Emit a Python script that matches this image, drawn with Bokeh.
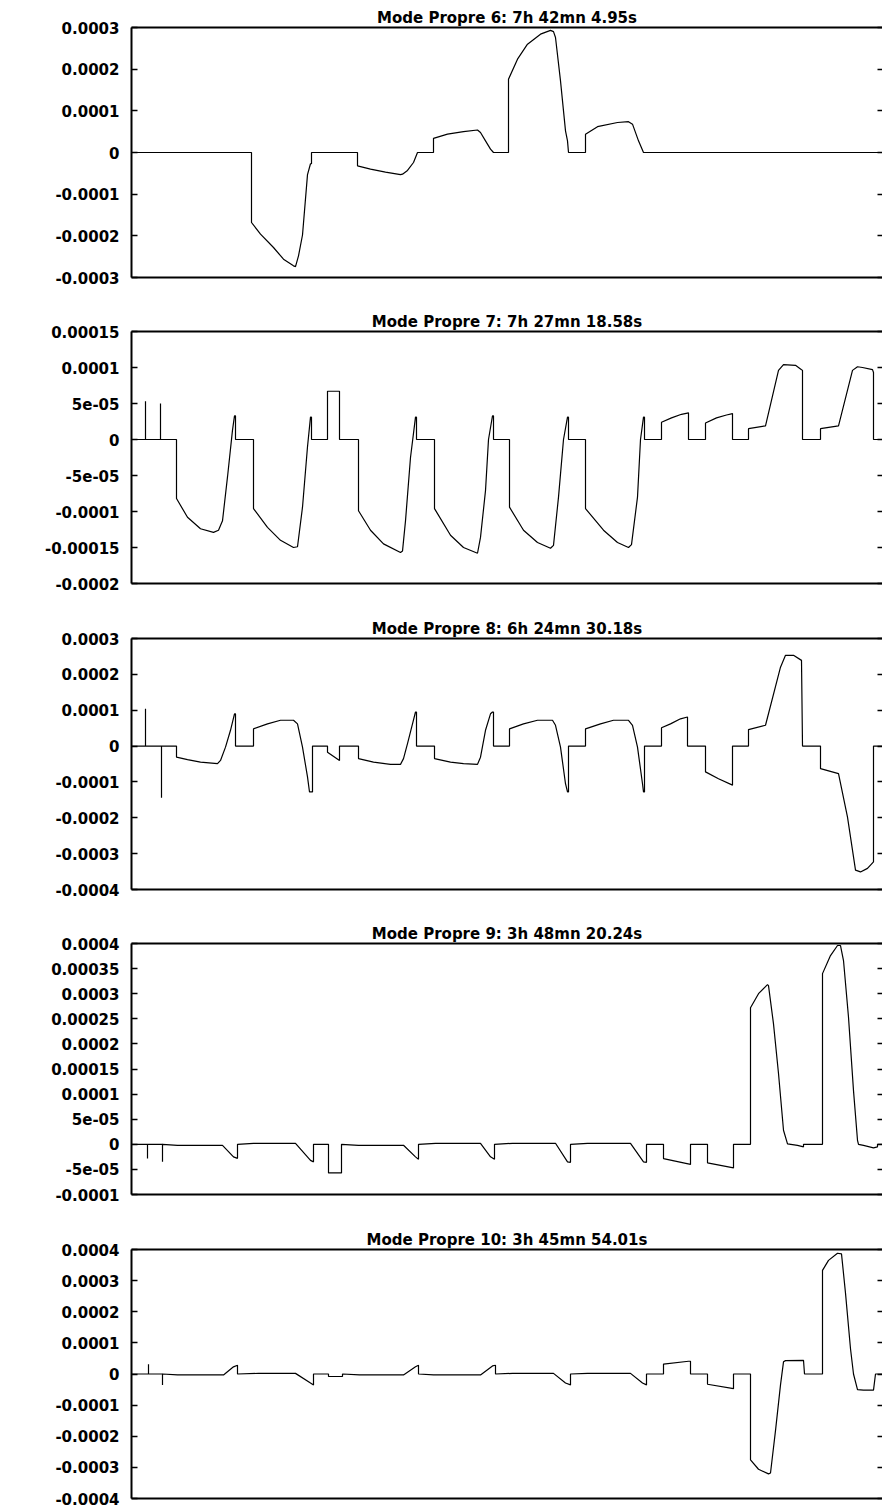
from bokeh.plotting import figure
from bokeh.models import Range1d, FixedTicker, LinearAxis
from bokeh.layouts import column
from bokeh.embed import file_html
from bokeh.resources import INLINE

# abscissa: arbitrary position units along the structure (0 .. 755)
# ordinates below are given in units of 1e-4
UNIT = 1e-4

TITLES = [
    "Mode Propre 6: 7h 42mn 4.95s",
    "Mode Propre 7: 7h 27mn 18.58s",
    "Mode Propre 8: 6h 24mn 30.18s",
    "Mode Propre 9: 3h 48mn 20.24s",
    "Mode Propre 10: 3h 45mn 54.01s",
]

P6_X = [0, 120, 120, 129, 142, 152, 162, 164, 167, 171, 176, 179, 180, 180,
        226, 226, 239, 254, 269, 271, 276, 282, 286,
        302, 302, 316, 332, 346, 349, 354, 359, 362,
        377, 377, 386, 396, 409, 419, 422, 424, 429, 434, 436, 437,
        454, 454, 466, 486, 497, 501, 507, 512, 755]
P6_Y = [0, 0, -1.68, -1.96, -2.28, -2.56, -2.72, -2.74, -2.48, -1.98, -0.53, -0.27, -0.27, 0,
        0, -0.32, -0.40, -0.47, -0.53, -0.52, -0.43, -0.24, 0,
        0, 0.34, 0.44, 0.50, 0.54, 0.48, 0.28, 0.08, 0,
        0, 1.76, 2.24, 2.60, 2.84, 2.93, 2.90, 2.76, 1.72, 0.52, 0.28, 0,
        0, 0.44, 0.62, 0.72, 0.74, 0.68, 0.28, 0, 0]

P7_X = [0, 14, 14, 14, 29, 29, 29,
        45, 45, 56, 69, 82, 87, 91, 96, 101, 103, 104, 104,
        122, 122, 136, 149, 162, 166, 171, 176, 179, 180, 180,
        196, 196, 208, 208,
        227, 227, 239, 252, 269, 271, 274, 279, 284, 285, 285,
        303, 303, 319, 332, 346, 349, 354, 357, 361, 362, 362,
        378, 378, 392, 406, 419, 422, 427, 432, 436, 437, 437,
        454, 454, 472, 486, 497, 500, 506, 509, 512, 513, 513,
        530, 530, 540, 550, 557, 557,
        574, 574, 585, 595, 601, 601,
        617, 617, 634, 647, 652, 664, 669, 671, 671,
        689, 689, 707, 721, 726, 731, 741, 742, 742, 755]
P7_Y = [0, 0, 0.53, 0, 0, 0.50, 0,
        0, -0.82, -1.08, -1.24, -1.29, -1.26, -1.13, -0.52, 0.13, 0.33, 0.33, 0,
        0, -0.96, -1.22, -1.40, -1.50, -1.49, -0.94, -0.10, 0.31, 0.31, 0,
        0, 0.67, 0.67, 0,
        0, -0.99, -1.26, -1.45, -1.57, -1.55, -1.13, -0.25, 0.31, 0.31, 0,
        0, -0.96, -1.33, -1.50, -1.58, -1.36, -0.71, 0, 0.33, 0.33, 0,
        0, -0.94, -1.26, -1.43, -1.51, -1.47, -0.80, 0, 0.31, 0.31, 0,
        0, -0.96, -1.26, -1.43, -1.50, -1.46, -0.80, 0, 0.31, 0.31, 0,
        0, 0.24, 0.30, 0.35, 0.37, 0,
        0, 0.23, 0.30, 0.34, 0.36, 0,
        0, 0.15, 0.19, 0.96, 1.04, 1.03, 0.98, 0.96, 0,
        0, 0.15, 0.19, 0.96, 1.01, 1.00, 0.97, 0.93, 0, 0]

P8_X = [0, 14, 14, 14, 30, 30, 30,
        45, 45, 56, 69, 86, 89, 94, 99, 103, 104, 104,
        122, 122, 136, 149, 162, 166, 171, 176, 178, 181, 181,
        196, 196, 208, 208,
        227, 227, 242, 259, 269, 272, 276, 281, 284, 285, 285,
        303, 303, 319, 332, 346, 349, 354, 359, 361, 362, 362,
        378, 378, 392, 406, 421, 424, 429, 434, 436, 437, 437,
        454, 454, 469, 482, 497, 501, 506, 511, 512, 513, 513,
        530, 530, 539, 549, 556, 556,
        574, 574, 587, 601, 601,
        617, 617, 634, 649, 654, 662, 670, 671,
        689, 689, 707, 716, 724, 729, 736, 742, 742, 755]
P8_Y = [0, 0, 1.04, 0, 0, -1.44, 0,
        0, -0.31, -0.38, -0.45, -0.49, -0.40, -0.03, 0.44, 0.90, 0.90, 0,
        0, 0.48, 0.62, 0.72, 0.72, 0.62, -0.03, -0.86, -1.28, -1.28, 0,
        0, -0.17, -0.40, 0,
        0, -0.35, -0.45, -0.51, -0.51, -0.35, 0.07, 0.62, 0.95, 0.95, 0,
        0, -0.35, -0.45, -0.49, -0.51, -0.31, 0.44, 0.90, 0.95, 0.95, 0,
        0, 0.48, 0.62, 0.72, 0.72, 0.58, -0.03, -1.05, -1.28, -1.28, 0,
        0, 0.48, 0.62, 0.72, 0.72, 0.58, -0.03, -1.05, -1.28, -1.28, 0,
        0, 0.51, 0.62, 0.76, 0.81, 0,
        0, -0.72, -0.91, -1.09, 0,
        0, 0.46, 0.58, 2.20, 2.53, 2.53, 2.39, 0,
        0, -0.63, -0.77, -1.98, -3.46, -3.51, -3.41, -3.23, 0, 0]

P9_X = [0, 16, 16, 16, 31, 31, 31,
        46, 91, 102, 106, 106,
        122, 164, 179, 182, 182,
        197, 197, 210, 210,
        227, 272, 284, 287, 287,
        304, 349, 359, 363, 363,
        381, 424, 436, 439, 439,
        456, 499, 512, 515, 515,
        532, 532, 559, 559,
        576, 576, 602, 602,
        619, 619, 627, 636, 637, 642, 647, 652, 656, 666, 672, 672,
        691, 691, 699, 706, 709, 712, 717, 722, 726, 727, 732, 742, 746, 746, 755]
P9_Y = [0, 0, -0.285, 0, 0, -0.35, 0,
        -0.02, -0.02, -0.25, -0.28, 0,
        0.02, 0.02, -0.32, -0.35, 0,
        0, -0.57, -0.57, 0,
        -0.02, -0.02, -0.25, -0.30, 0,
        0.02, 0.02, -0.25, -0.30, 0,
        0.02, 0.02, -0.35, -0.36, 0,
        0.02, 0.02, -0.35, -0.36, 0,
        0, -0.285, -0.40, 0,
        0, -0.37, -0.47, 0,
        0, 2.72, 3.00, 3.18, 3.16, 2.40, 1.41, 0.28, 0.01, -0.02, -0.05, 0,
        0, 3.40, 3.76, 3.96, 3.96, 3.66, 2.53, 1.07, 0.08, 0, -0.02, -0.07, -0.05, 0, 0]

P10_X = [0, 17, 17, 17, 31, 31, 31,
         46, 92, 102, 106, 106,
         127, 164, 179, 182, 182,
         197, 197, 211, 211,
         228, 272, 284, 287, 287,
         302, 349, 361, 364, 364,
         381, 422, 434, 439, 439,
         456, 499, 511, 515, 515,
         532, 532, 557, 559, 559,
         576, 576, 602, 602,
         619, 619, 627, 637, 639, 644, 649, 652, 654, 672, 673,
         691, 691, 697, 706, 710, 714, 719, 722, 726, 732, 742, 744, 755]
P10_Y = [0, 0, 0.31, 0, 0, -0.35, 0,
         -0.03, -0.03, 0.23, 0.28, 0,
         0.02, 0.02, -0.29, -0.35, 0,
         0, -0.08, -0.08, 0,
         -0.03, -0.03, 0.23, 0.28, 0,
         -0.03, -0.03, 0.26, 0.28, 0,
         0.02, 0.02, -0.29, -0.35, 0,
         0.02, 0.02, -0.29, -0.35, 0,
         0, 0.32, 0.41, 0.41, 0,
         0, -0.33, -0.47, 0,
         0, -2.76, -3.06, -3.21, -3.18, -1.82, -0.35, 0.39, 0.43, 0.44, 0,
         0, 3.33, 3.65, 3.88, 3.86, 2.60, 0.81, 0, -0.50, -0.52, -0.52, 0, 0]

P6_TICKS = [-0.0003, -0.0002, -0.0001, 0, 0.0001, 0.0002, 0.0003]
P6_LABELS = ["-0.0003", "-0.0002", "-0.0001", "0", "0.0001", "0.0002", "0.0003"]
P7_TICKS = [-0.0002, -0.00015, -0.0001, -5e-05, 0, 5e-05, 0.0001, 0.00015]
P7_LABELS = ["-0.0002", "-0.00015", "-0.0001", "-5e-05", "0", "5e-05", "0.0001", "0.00015"]
P8_TICKS = [-0.0004, -0.0003, -0.0002, -0.0001, 0, 0.0001, 0.0002, 0.0003]
P8_LABELS = ["-0.0004", "-0.0003", "-0.0002", "-0.0001", "0", "0.0001", "0.0002", "0.0003"]
P9_TICKS = [-0.0001, -5e-05, 0, 5e-05, 0.0001, 0.00015, 0.0002, 0.00025, 0.0003, 0.00035, 0.0004]
P9_LABELS = ["-0.0001", "-5e-05", "0", "5e-05", "0.0001", "0.00015", "0.0002", "0.00025",
             "0.0003", "0.00035", "0.0004"]
P10_TICKS = [-0.0004, -0.0003, -0.0002, -0.0001, 0, 0.0001, 0.0002, 0.0003, 0.0004]
P10_LABELS = ["-0.0004", "-0.0003", "-0.0002", "-0.0001", "0", "0.0001", "0.0002", "0.0003", "0.0004"]

Y_RANGES = [(-0.0003, 0.0003), (-0.0002, 0.00015), (-0.0004, 0.0003),
            (-0.0001, 0.0004), (-0.0004, 0.0004)]

TOP = [27, 22, 22, 22, 22]
FRAME_H = [250, 252, 251, 251, 249]
BOTTOM = [32, 33, 32, 33, 12]
FONT = "DejaVu Sans"
FSIZE = "15px"


def make_panel(title, xs, ys, ticks, labels, yr, top_b, fh, bottom):
    p = figure(width=882, height=top_b + fh + bottom, output_backend="svg",
               toolbar_location=None, x_range=Range1d(0, 751), y_range=Range1d(*yr),
               min_border_left=131, min_border_right=0, min_border_top=top_b,
               min_border_bottom=bottom, title=title)
    p.line(xs, [v * UNIT for v in ys], line_color="black", line_width=1.2)
    p.grid.visible = False
    p.outline_line_color = None
    p.background_fill_color = "white"
    p.border_fill_color = "white"

    p.title.text_font = FONT
    p.title.text_font_size = FSIZE
    p.title.text_font_style = "bold"
    p.title.text_color = "black"
    p.title.align = "center"
    p.title.standoff = 2

    ya = p.yaxis[0]
    ya.ticker = FixedTicker(ticks=ticks)
    ya.major_label_overrides = dict(zip(ticks, labels))
    ya.major_label_text_font = FONT
    ya.major_label_text_font_size = FSIZE
    ya.major_label_text_font_style = "bold"
    ya.major_label_text_color = "black"
    ya.major_tick_in = 6
    ya.major_tick_out = 0
    ya.major_tick_line_width = 1.5
    ya.minor_tick_in = 0
    ya.minor_tick_out = 0
    ya.axis_line_width = 2
    ya.major_label_standoff = 12

    xa = p.xaxis[0]
    xa.ticker = FixedTicker(ticks=[])
    xa.major_label_standoff = 0
    xa.major_tick_out = 0
    xa.major_tick_in = 0
    xa.minor_tick_out = 0
    xa.minor_tick_in = 0
    xa.axis_line_width = 2

    top = LinearAxis(ticker=FixedTicker(ticks=[]), major_label_standoff=0,
                     major_tick_out=0, major_tick_in=0,
                     minor_tick_out=0, minor_tick_in=0, axis_line_width=2)
    p.add_layout(top, "above")

    # mirrored tick marks on the right edge (minor ticks only: no label texts)
    right = LinearAxis(ticker=FixedTicker(ticks=[], minor_ticks=ticks),
                       major_label_standoff=0, major_tick_out=0, major_tick_in=0,
                       minor_tick_out=0, minor_tick_in=5, minor_tick_line_width=1.5,
                       axis_line_color=None)
    p.add_layout(right, "right")
    return p


panels = [
    make_panel(TITLES[0], P6_X, P6_Y, P6_TICKS, P6_LABELS, Y_RANGES[0], TOP[0], FRAME_H[0], BOTTOM[0]),
    make_panel(TITLES[1], P7_X, P7_Y, P7_TICKS, P7_LABELS, Y_RANGES[1], TOP[1], FRAME_H[1], BOTTOM[1]),
    make_panel(TITLES[2], P8_X, P8_Y, P8_TICKS, P8_LABELS, Y_RANGES[2], TOP[2], FRAME_H[2], BOTTOM[2]),
    make_panel(TITLES[3], P9_X, P9_Y, P9_TICKS, P9_LABELS, Y_RANGES[3], TOP[3], FRAME_H[3], BOTTOM[3]),
    make_panel(TITLES[4], P10_X, P10_Y, P10_TICKS, P10_LABELS, Y_RANGES[4], TOP[4], FRAME_H[4], BOTTOM[4]),
]

layout = column(*panels, spacing=0)
open("out.html", "w").write(file_html(layout, INLINE))
